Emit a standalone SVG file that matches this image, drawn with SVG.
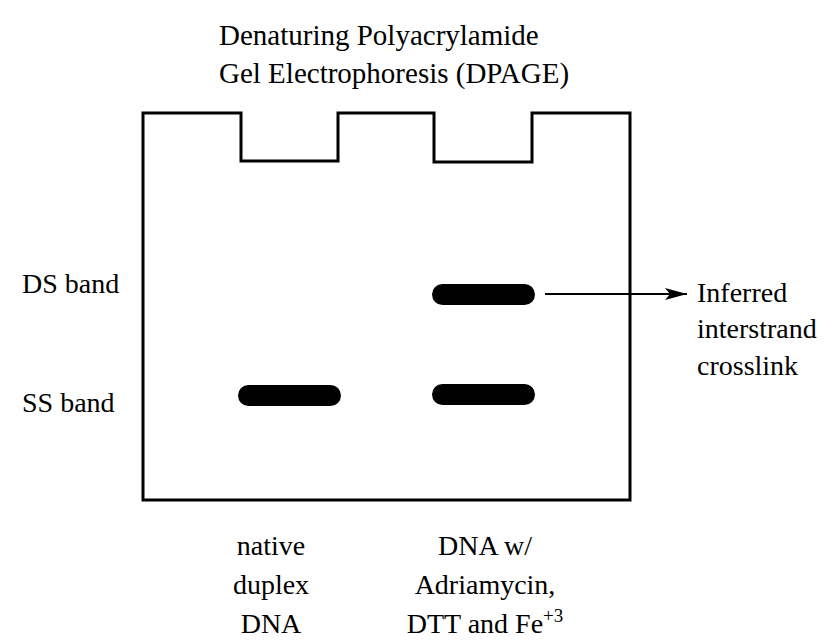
<svg xmlns="http://www.w3.org/2000/svg" width="837" height="644" viewBox="0 0 837 644">
<style>
text{font-family:'Liberation Serif','Times New Roman',serif;font-size:28px;fill:#000}
.t{font-size:29px}
.c{text-anchor:middle}
.gel{fill:none;stroke:#000;stroke-width:3}
.band{fill:#000}
</style>
<defs>
<marker id="ah" viewBox="0 0 22 12" refX="22" refY="6" markerWidth="22" markerHeight="12" markerUnits="userSpaceOnUse" orient="auto">
<path d="M0,0 L22,6 L0,12 L5,6 Z" fill="#000"/>
</marker>
</defs>
<rect width="837" height="644" fill="#fff"/>
<g id="title">
<text class="t" x="219" y="45">Denaturing Polyacrylamide</text>
<text class="t" x="219" y="83">Gel Electrophoresis (DPAGE)</text>
</g>
<g id="gel">
<path class="gel" d="M143,113 L241,113 L241,161 L338,161 L338,113 L434,113 L434,162 L532,162 L532,113 L630,113 L630,500 L143,500 Z"/>
</g>
<g id="ds-label"><text x="22" y="293">DS band</text></g>
<g id="ss-label"><text x="22" y="412">SS band</text></g>
<g id="band-ds"><rect class="band" x="432" y="284" width="103" height="21" rx="10.5"/></g>
<g id="band-ss-native"><rect class="band" x="238" y="385" width="103" height="21" rx="10.5"/></g>
<g id="band-ss-treated"><rect class="band" x="432" y="384" width="103" height="21" rx="10.5"/></g>
<g id="connectors">
<line x1="545" y1="294" x2="687" y2="294" stroke="#000" stroke-width="2" marker-end="url(#ah)"/>
</g>
<g id="inferred">
<text x="697" y="302">Inferred</text>
<text x="697" y="338">interstrand</text>
<text x="697" y="375">crosslink</text>
</g>
<g id="lane1-label">
<text class="c" x="271" y="555">native</text>
<text class="c" x="271" y="594">duplex</text>
<text class="c" x="271" y="633">DNA</text>
</g>
<g id="lane2-label">
<text class="c" x="485" y="555">DNA w/</text>
<text class="c" x="485" y="594">Adriamycin,</text>
<text class="c" x="485" y="633">DTT and Fe<tspan dy="-11" font-size="19">+3</tspan></text>
</g>
</svg>
